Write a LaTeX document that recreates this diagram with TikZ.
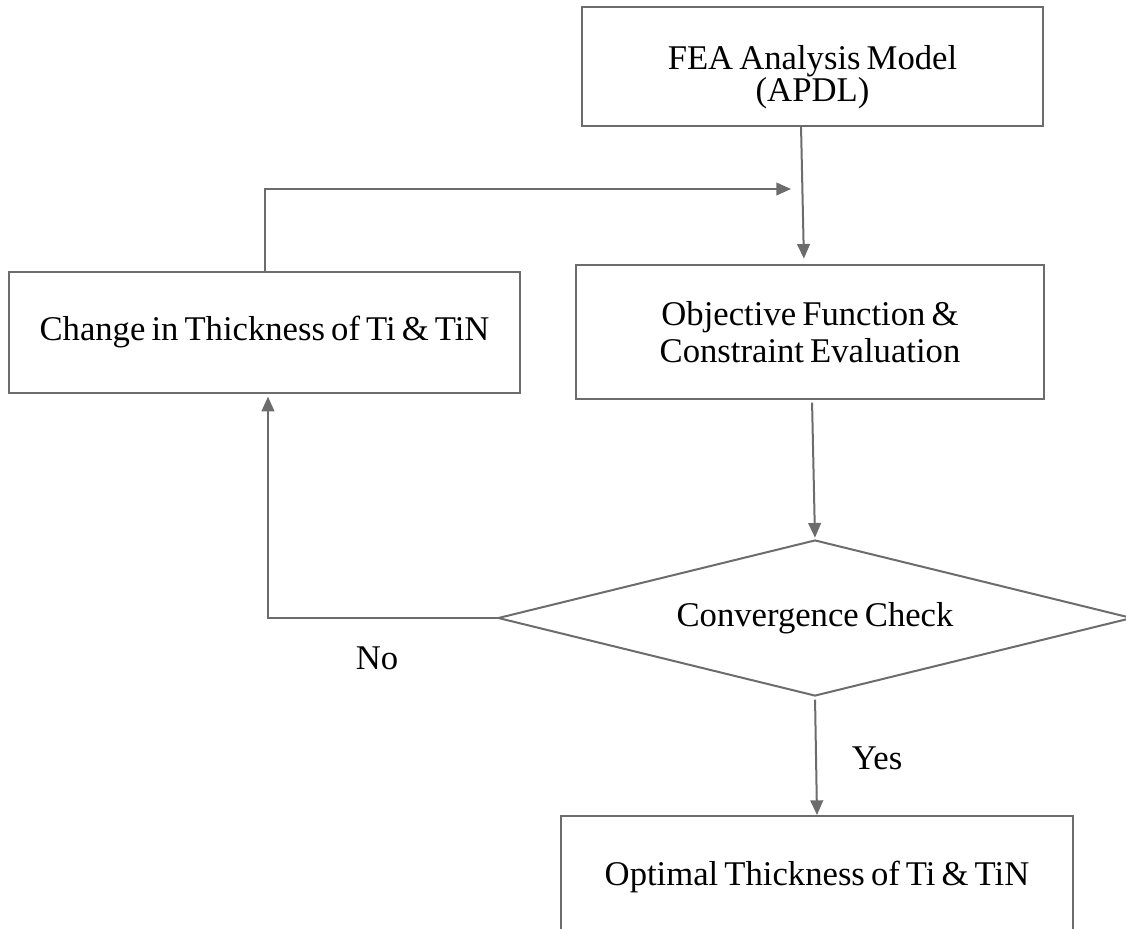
\documentclass[tikz,border=0pt]{standalone}
\usepackage{fontspec}
\setmainfont{Liberation Serif}[WordSpace=0.7]
\usetikzlibrary{arrows.meta,shapes.geometric}
\definecolor{linegray}{HTML}{6C6C6C}

\tikzset{
  box/.style={draw=linegray, line width=1.5pt, rectangle, align=center, inner sep=0pt},
  decision/.style={draw=linegray, line width=1.5pt, diamond, aspect=4.06, inner sep=0pt, align=center},
  arr/.style={draw=linegray, line width=1.5pt, -{Triangle[length=11pt,width=9.5pt]}},
  txt/.style={font=\fontsize{26}{28}\selectfont}
}

\begin{document}
\begin{tikzpicture}[x=0.75pt, y=-0.75pt]
\useasboundingbox (0, 0) rectangle (1126, 928);
\clip (0, 0) rectangle (1126, 928);

\node [box, minimum width=345.75pt, minimum height=89.25pt, font=\fontsize{26}{22.5}\selectfont] (fea) at (812.5, 66.5) {\rule{0pt}{34pt}FEA Analysis Model\\(APDL)};
\node [box, minimum width=351pt, minimum height=100.5pt, font=\fontsize{26}{27.75}\selectfont] (obj) at (810, 332) {Objective Function \&\\Constraint Evaluation};
\node [box, txt, minimum width=383.25pt, minimum height=90.75pt] (chg) at (264.5, 332.5) {Change in Thickness of Ti \& TiN};
\node [decision, txt, minimum width=475.5pt, minimum height=117pt] (chk) at (815, 618) {Convergence Check};
\node [box, txt, minimum width=384pt, minimum height=91.5pt] (opt) at (817, 877) {Optimal Thickness of Ti \& TiN};

\node [txt] (no) at (377, 658) {No};
\node [txt] (yes) at (877, 758) {Yes};

\coordinate (loopend) at (791, 189);

\draw [arr, shorten >=4pt] ([xshift=-8.6pt]fea.south) -- ([xshift=-4.5pt]obj.north);
\draw [arr] (chg.north) |- (loopend);
\draw [arr, shorten <=2pt, shorten >=1pt] ([xshift=1.5pt]obj.south) -- (chk.north);
\draw [arr, shorten >=2pt] (chk.west) -| ([xshift=2.6pt]chg.south);
\draw [arr, shorten <=2pt] (chk.south) -- (opt.north);
\end{tikzpicture}
\end{document}
